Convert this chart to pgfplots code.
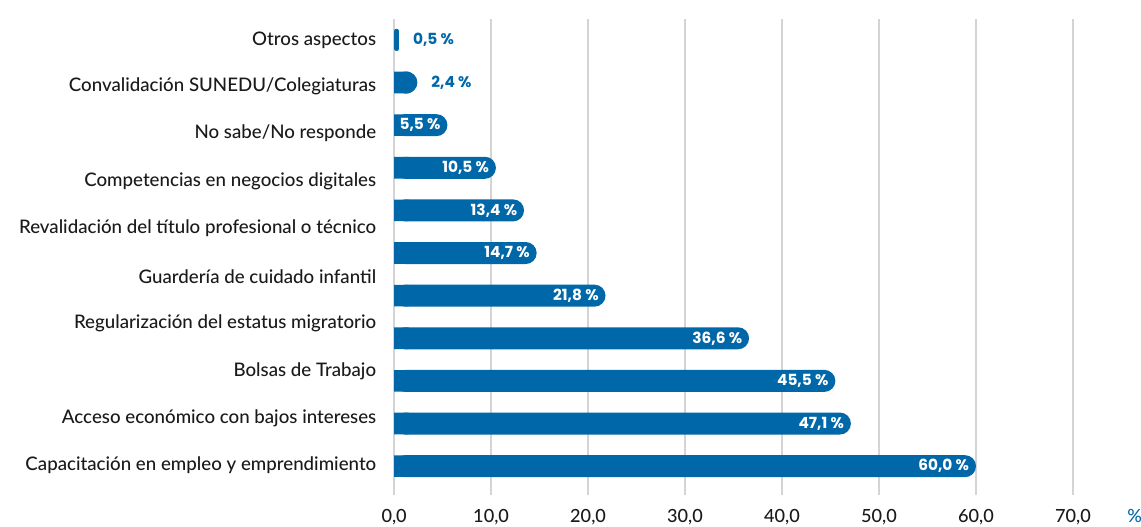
\documentclass[border=0pt]{standalone}
\usepackage{pgfplots}
\pgfplotsset{compat=1.18}
\usepackage{pgfplotstable}
\usepackage{fontspec}
\setmainfont{Lato Medium}
\newfontfamily\valfont{Poppins}
\definecolor{barblue}{HTML}{0068A8}
\definecolor{gridgray}{HTML}{D4D4D4}
\definecolor{labelgray}{HTML}{1A1A1A}

% y = bar position (0 = bottom), x = percentage
\pgfplotstableread{
y x
0 60.0
1 47.1
2 45.5
3 36.6
4 21.8
5 14.7
6 13.4
7 10.5
8 5.5
9 2.4
10 0.5
}\datatable

\newcommand{\pct}{\pgfmathprintnumber[use comma,fixed,fixed zerofill,precision=1,assume math mode=true]{\pgfplotspointmeta}~\%}

\begin{document}
\begin{tikzpicture}
\begin{axis}[
  scale only axis,
  width=509pt, height=357pt,
  xmin=0, xmax=70,
  ymin=-0.68, ymax=10.49,
  axis line style={draw=none},
  major tick length=0pt,
  xtick={0,10,...,70},
  xticklabel={\pgfmathprintnumber[use comma,fixed,fixed zerofill,precision=1,assume math mode=true]{\tick}},
  xticklabel style={font=\fontsize{13.6}{15}\selectfont, text=labelgray, yshift=-7pt},
  xmajorgrids,
  grid style={gridgray, line width=1.4pt},
  ytick={0.02,1.13,2.23,3.36,4.44,5.59,6.69,7.82,8.90,10.0},
  yticklabels={Capacitación en empleo y emprendimiento,
    Acceso económico con bajos intereses,
    Bolsas de Trabajo,
    Regularización del estatus migratorio,
    Guardería de cuidado infantil,
    Revalidación del título profesional o técnico,
    Competencias en negocios digitales,
    No sabe/No responde,
    Convalidación SUNEDU/Colegiaturas,
    Otros aspectos},
  yticklabel style={font=\fontsize{14}{16}\selectfont, text=labelgray, xshift=-10pt},
  xlabel={\%},
  xlabel style={at={(axis description cs:1.091,0)}, anchor=north, yshift=-7pt,
    inner sep=0.3333em, font=\fontsize{13.6}{15}\selectfont, text=barblue},
  clip=false,
  every axis plot/.append style={xbar, bar width=16.5pt, bar shift=0pt, draw=none},
]
% bars with rounded ends
\addplot[fill=barblue, rounded corners=8.25pt, restrict x to domain=1:100]
  table[x=x, y=y] {\datatable};
% square piece at zero, hides the rounding on the left
\addplot[fill=barblue, bar width=16.2pt, restrict x to domain=1:100]
  table[x expr={min(\thisrow{x},1.5)}, y=y] {\datatable};
% the tiny bar
\addplot[fill=barblue, rounded corners=1.5pt, restrict x to domain=0:1]
  table[x=x, y=y] {\datatable};
% labels inside bars
\addplot[fill=none, restrict x to domain=5:100, point meta=x,
  nodes near coords=\pct,
  every node near coord/.append style={anchor=east, xshift=-3pt, inner sep=2pt,
    text=white, font=\valfont\bfseries\fontsize{11.5}{13}\selectfont}]
  table[x=x, y=y] {\datatable};
% labels outside bars
\addplot[fill=none, restrict x to domain=0:3, point meta=x,
  nodes near coords=\pct,
  every node near coord/.append style={anchor=west, xshift=7pt, text=barblue,
    font=\valfont\bfseries\fontsize{11.5}{13}\selectfont}]
  table[x=x, y=y] {\datatable};
\end{axis}
\pgfresetboundingbox
\path (current axis.north west) ++(-295.5pt,14.25pt) coordinate (bbA);
\path (current axis.south east) ++(51pt,-23.25pt) coordinate (bbB);
\useasboundingbox (bbA) rectangle (bbB);
\end{tikzpicture}
\end{document}
